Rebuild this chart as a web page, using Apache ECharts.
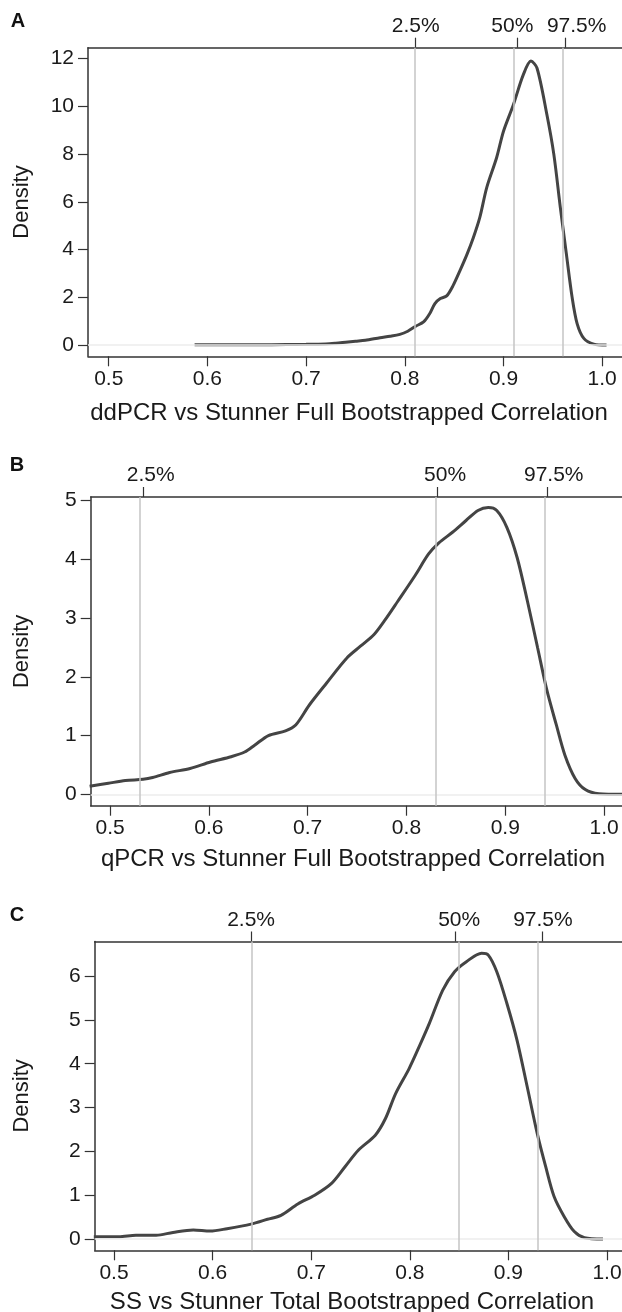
<!DOCTYPE html>
<html>
<head>
<meta charset="utf-8">
<script src="https://cdn.jsdelivr.net/npm/echarts@6/dist/echarts.min.js"></script>
<style>
html,body{margin:0;padding:0;background:#fff;}
#chart{width:622px;height:1312px;}
</style>
</head>
<body>
<div id="chart"></div>
<script>
// ---------- data ----------
var panelLetters = ['A', 'B', 'C'];
var xTitles = [
  'ddPCR vs Stunner Full Bootstrapped Correlation',
  'qPCR vs Stunner Full Bootstrapped Correlation',
  'SS vs Stunner Total Bootstrapped Correlation'
];
var xTickValues = [0.5, 0.6, 0.7, 0.8, 0.9, 1.0];
var yTicksA = [0, 2, 4, 6, 8, 10, 12];
var yTicksB = [0, 1, 2, 3, 4, 5];
var yTicksC = [0, 1, 2, 3, 4, 5, 6];
var pctLabels = ['2.5%', '50%', '97.5%'];
var pctA = [0.811, 0.914, 0.963];
var pctB = [0.534, 0.831, 0.943];
var pctC = [0.639, 0.846, 0.934];

var xA = [0.587,0.60,0.62,0.65,0.68,0.70,0.72,0.73,0.74,0.75,0.76,0.775,0.785,0.795,0.803,0.811,0.819,0.825,0.8305,0.836,0.8424,0.849,0.856,0.863,0.8695,0.876,0.883,0.893,0.900,0.910,0.920,0.9278,0.934,0.944,0.951,0.9576,0.9637,0.9695,0.9746,0.9814,0.9915,1.0044];
var yA = [0.01,0.01,0.01,0.01,0.02,0.03,0.05,0.08,0.12,0.16,0.2,0.31,0.37,0.45,0.58,0.79,0.97,1.3,1.74,1.95,2.06,2.5,3.13,3.8,4.51,5.35,6.6,7.85,8.96,10.07,11.32,11.9,11.6,9.65,7.99,5.76,3.82,2.01,0.90,0.28,0.04,0.0];

var xB = [0.4793,0.4983,0.5155,0.5334,0.5431,0.5603,0.581,0.6017,0.6224,0.6362,0.6466,0.6603,0.6776,0.6879,0.7017,0.719,0.7397,0.7534,0.7672,0.7776,0.7914,0.8086,0.8224,0.8328,0.8466,0.8603,0.8724,0.8828,0.8914,0.9017,0.912,0.9224,0.9328,0.942,0.9517,0.9603,0.9707,0.981,0.9948,1.02];
var yB = [0.137,0.188,0.234,0.256,0.285,0.37,0.44,0.55,0.64,0.72,0.84,1.0,1.08,1.18,1.52,1.89,2.32,2.52,2.72,2.95,3.29,3.72,4.09,4.28,4.46,4.66,4.83,4.88,4.83,4.54,4.03,3.29,2.49,1.78,1.18,0.67,0.27,0.08,0.01,0.0];

var xC = [0.4795,0.505,0.5222,0.5428,0.5598,0.5804,0.5975,0.6146,0.6389,0.6556,0.6693,0.6864,0.7035,0.7206,0.7343,0.748,0.765,0.7753,0.7856,0.7993,0.8095,0.8198,0.8334,0.8454,0.8574,0.8728,0.8796,0.8882,0.8984,0.9087,0.919,0.9292,0.9378,0.9463,0.9566,0.9668,0.9771,0.9959];
var yC = [0.05,0.05,0.084,0.084,0.15,0.205,0.18,0.236,0.34,0.45,0.54,0.80,1.0,1.27,1.65,2.03,2.37,2.75,3.32,3.89,4.39,4.92,5.68,6.10,6.33,6.52,6.48,6.10,5.38,4.54,3.48,2.41,1.65,0.97,0.51,0.17,0.03,0.0];

// ---------- layout ----------
var FONT = '"Liberation Sans", Arial, Helvetica, sans-serif';
var panels = [
  {x: xA, y: yA, pct: pctA, yTicks: yTicksA, left: 88,   top: 47.7, width: 543.8, height: 308.6, xmin: 0.479,  ymin: -0.47,  ymax: 12.46, nameGap: 55,
   letter: [18, 21], title: [349, 413], labelShift: [0, -5, 11]},
  {x: xB, y: yB, pct: pctB, yTicks: yTicksB, left: 90.7, top: 497,  width: 543.0, height: 308.7, xmin: 0.4804, ymin: -0.194, ymax: 5.06,  nameGap: 58,
   letter: [17, 465], title: [353, 859], labelShift: [7, 8, 6]},
  {x: xC, y: yC, pct: pctC, yTicks: yTicksC, left: 94.7, top: 941.5,width: 541.9, height: 308.8, xmin: 0.4804, ymin: -0.258, ymax: 6.79,  nameGap: 62,
   letter: [17, 915], title: [352, 1302], labelShift: [0, 4, 1]}
];
var XMAX = 1.03;
var frameColor = '#333';
var textColor = '#1a1a1a';

var grids = [], xAxes = [], yAxes = [], series = [], graphics = [];

panels.forEach(function (p, i) {
  grids.push({left: p.left, top: p.top, width: p.width, height: p.height, containLabel: false, outerBoundsMode: 'none'});
  xAxes.push({
    gridIndex: i, type: 'value', position: 'bottom', min: p.xmin, max: XMAX,
    axisLine: {show: true, onZero: false, lineStyle: {color: frameColor, width: 1.5}},
    axisTick: {show: true, length: 10, customValues: xTickValues, lineStyle: {color: frameColor, width: 1.2}},
    axisLabel: {show: true, customValues: xTickValues, margin: 12, fontSize: 21, fontFamily: FONT, color: textColor, hideOverlap: false,
      formatter: function (v) { return Number(v).toFixed(1); }},
    splitLine: {show: false}
  });
  (function (pct, shift) {
    var rich = {};
    shift.forEach(function (s, k) {
      rich['p' + k] = {fontSize: 21, fontFamily: FONT, color: textColor,
        padding: s >= 0 ? [0, 0, 0, 2 * s] : [0, -2 * s, 0, 0]};
    });
    xAxes.push({
      gridIndex: i, type: 'value', position: 'top', min: p.xmin, max: XMAX,
      axisLine: {show: true, onZero: false, lineStyle: {color: frameColor, width: 1.5}},
      axisTick: {show: true, length: 10, customValues: pct, lineStyle: {color: frameColor, width: 1.2}},
      axisLabel: {show: true, customValues: pct, margin: 11, fontSize: 21, fontFamily: FONT, color: textColor, hideOverlap: false,
        rich: rich,
        formatter: function (v) {
          var best = 0, bd = 1e9;
          for (var k = 0; k < pct.length; k++) { var d = Math.abs(pct[k] - v); if (d < bd) { bd = d; best = k; } }
          return '{p' + best + '|' + pctLabels[best] + '}';
        }},
      splitLine: {show: false}
    });
  })(p.pct, p.labelShift);
  yAxes.push({
    gridIndex: i, type: 'value', min: p.ymin, max: p.ymax,
    name: 'Density', nameLocation: 'middle', nameRotate: 90, nameGap: p.nameGap,
    nameTextStyle: {fontSize: 22, fontFamily: FONT, color: textColor},
    axisLine: {show: true, onZero: false, lineStyle: {color: frameColor, width: 1.5}},
    axisTick: {show: true, length: 10, customValues: p.yTicks, lineStyle: {color: frameColor, width: 1.2}},
    axisLabel: {show: true, customValues: p.yTicks, margin: 14, fontSize: 21, fontFamily: FONT, color: textColor, hideOverlap: false},
    splitLine: {show: false}
  });
  var data = p.x.map(function (xv, k) { return [xv, p.y[k]]; });
  var ml = p.pct.map(function (v) {
    return {xAxis: v, lineStyle: {color: '#c4c4c4', width: 1.5, type: 'solid'}};
  });
  ml.unshift({yAxis: 0, lineStyle: {color: '#ececec', width: 1.5, type: 'solid'}});
  series.push({
    type: 'line', xAxisIndex: i * 2, yAxisIndex: i, data: data,
    smooth: 0.3, showSymbol: false, symbol: 'none', clip: true,
    lineStyle: {color: '#444', width: 3},
    markLine: {silent: true, symbol: ['none', 'none'], label: {show: false}, animation: false, data: ml},
    z: 3
  });
  graphics.push({
    type: 'text', x: p.letter[0], y: p.letter[1],
    style: {text: panelLetters[i], fontSize: 20, fontWeight: 'bold', fontFamily: FONT, fill: '#111',
      align: 'center', verticalAlign: 'middle', textAlign: 'center', textVerticalAlign: 'middle'}
  });
  graphics.push({
    type: 'text', x: p.title[0], y: p.title[1],
    style: {text: xTitles[i], fontSize: 24, fontFamily: FONT, fill: textColor,
      align: 'center', verticalAlign: 'middle', textAlign: 'center', textVerticalAlign: 'middle'}
  });
});

var chart = echarts.init(document.getElementById('chart'), null, {renderer: 'canvas'});
chart.setOption({
  animation: false,
  backgroundColor: '#fff',
  grid: grids,
  xAxis: xAxes,
  yAxis: yAxes,
  series: series,
  graphic: graphics
});
</script>
</body>
</html>
